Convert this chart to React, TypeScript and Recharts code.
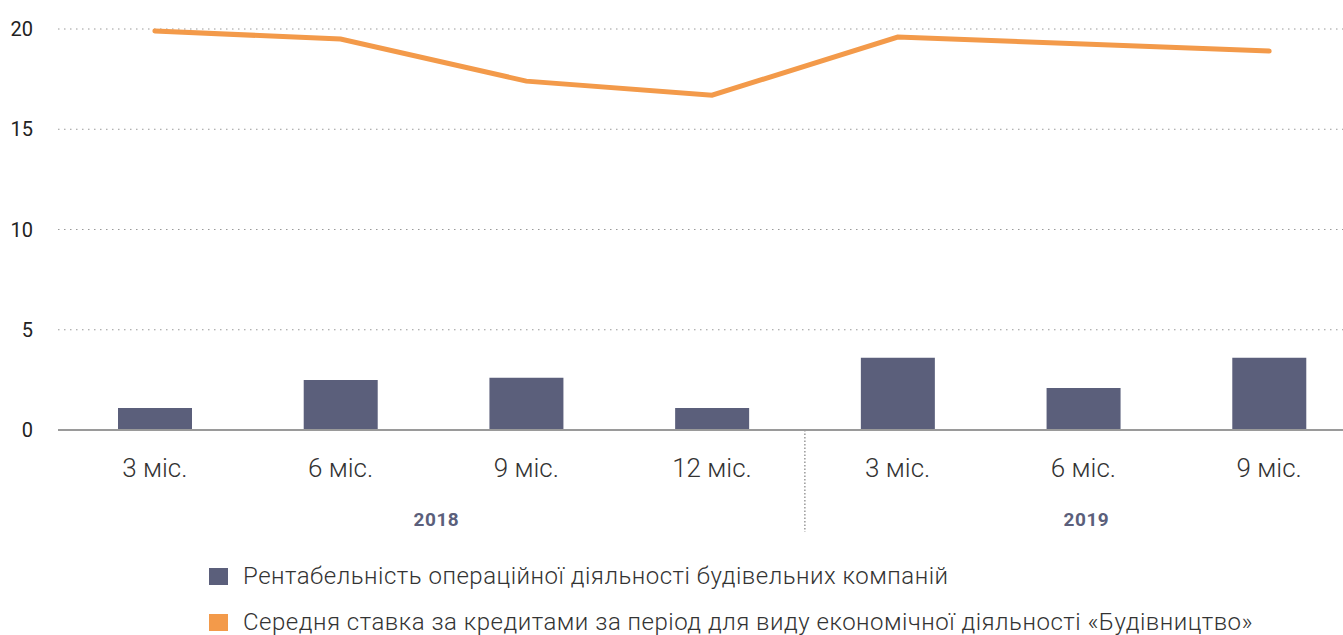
import React from 'react';
import { ComposedChart, Bar, Line, XAxis, YAxis, CartesianGrid, Legend } from 'recharts';

const periods = ['3 міс.', '6 міс.', '9 міс.', '12 міс.', '3 міс.', '6 міс.', '9 міс.'];
const years = ['2018', '2018', '2018', '2018', '2019', '2019', '2019'];
const profitability = [1.1, 2.5, 2.6, 1.1, 3.6, 2.1, 3.6];
const loanRate = [19.9, 19.5, 17.4, 16.7, 19.6, 19.25, 18.9];
const yTicks = [0, 5, 10, 15, 20];

const barName = 'Рентабельність операційної діяльності будівельних компаній';
const lineName = 'Середня ставка за кредитами за період для виду економічної діяльності «Будівництво»';

const BAR_COLOR = '#5b5f7b';
const LINE_COLOR = '#f39a4a';
const FONT = 'Roboto, "Noto Sans", sans-serif';
const PAD_LEFT = 4;

const data = periods.map((p, i) => ({
  id: `${years[i]}-${i}`,
  period: p,
  year: years[i],
  profitability: profitability[i],
  loanRate: loanRate[i],
}));

function PeriodTick(props: any) {
  const { x, y, index, width, visibleTicksCount } = props;
  const count = visibleTicksCount || periods.length;
  const band = width ? (width - PAD_LEFT) / count : 1300 / 7;
  const year = years[index];
  const first = years.indexOf(year);
  const last = years.lastIndexOf(year);
  const mid = (first + last) / 2;
  const showYear = index === Math.floor(mid);
  const yearX = x + (mid - Math.floor(mid)) * band;
  const groupEnd = index === last && index < years.length - 1;
  return (
    <g>
      <text x={x} y={y + 47} textAnchor="middle" fill="#333" fontSize={26} fontWeight={300} fontFamily={FONT}>
        {periods[index]}
      </text>
      {showYear && (
        <text x={yearX + 3} y={y + 96} textAnchor="middle" fill={BAR_COLOR} fontSize={19} fontWeight={700} fontFamily={FONT} letterSpacing={0.5}>
          {year}
        </text>
      )}
      {groupEnd && (
        <line x1={x + band / 2} x2={x + band / 2} y1={y} y2={y + 102} stroke="#999" strokeWidth={1.5} strokeDasharray="1.5 2" />
      )}
    </g>
  );
}

function LegendContent() {
  const items = [
    { name: barName, color: BAR_COLOR },
    { name: lineName, color: LINE_COLOR },
  ];
  return (
    <div style={{ height: 100, paddingLeft: 209, paddingTop: 18, boxSizing: 'border-box', fontFamily: FONT }}>
      {items.map((it) => (
        <div key={it.name} style={{ display: 'flex', alignItems: 'center', height: 46 }}>
          <span style={{ width: 19, height: 17, background: it.color, display: 'inline-block', marginRight: 15 }} />
          <span style={{ fontSize: 24, fontWeight: 300, color: '#333', whiteSpace: 'nowrap', letterSpacing: 0.5 }}>{it.name}</span>
        </div>
      ))}
    </div>
  );
}

export default function App() {
  return (
    <div style={{ position: 'absolute', left: 0, top: 0, width: 1343, height: 635, overflow: 'hidden', background: '#fff' }}>
      <ComposedChart width={1362} height={635} data={data} margin={{ top: 29, right: 0, left: 0, bottom: 0 }}>
        <CartesianGrid vertical={false} stroke="#999" strokeDasharray="1.5 4.5" />
        <XAxis
          dataKey="id"
          padding={{ left: PAD_LEFT, right: 0 }}
          height={105}
          tickSize={0}
          tickMargin={0}
          tickLine={false}
          axisLine={{ stroke: '#9a9a9a', strokeWidth: 2 }}
          tick={<PeriodTick />}
          interval={0}
        />
        <YAxis
          domain={[0, 20]}
          ticks={yTicks}
          width={58}
          axisLine={false}
          tickLine={false}
          tickSize={0}
          tickMargin={25}
          tick={{ fill: '#222', fontSize: 20, fontFamily: FONT }}
        />
        <Legend verticalAlign="bottom" content={<LegendContent />} />
        <Bar dataKey="profitability" name={barName} fill={BAR_COLOR} barSize={74} isAnimationActive={false} />
        <Line
          dataKey="loanRate"
          name={lineName}
          type="linear"
          stroke={LINE_COLOR}
          strokeWidth={5}
          strokeLinecap="round"
          dot={false}
          activeDot={false}
          isAnimationActive={false}
        />
      </ComposedChart>
    </div>
  );
}
